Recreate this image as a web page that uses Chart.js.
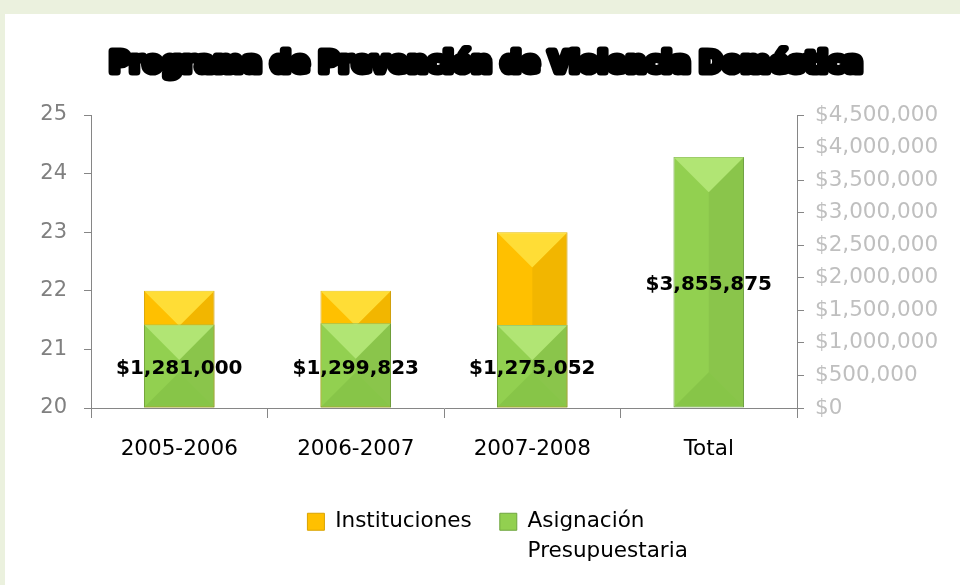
<!DOCTYPE html>
<html>
<head>
<meta charset="utf-8">
<script src="https://cdn.jsdelivr.net/npm/chart.js@4.4.0/dist/chart.umd.min.js"></script>
<style>
  html, body { margin: 0; padding: 0; background: #EBF1DE; }
  #wrap { position: absolute; left: 5px; top: 14px; width: 955px; height: 571px; background: #fff; }
</style>
</head>
<body>
<div id="wrap"><canvas id="chart-violencia"></canvas></div>
<script>
// datos del gráfico
const CATEGORIAS    = ['2005-2006', '2006-2007', '2007-2008', 'Total'];
const INSTITUCIONES = [22, 22, 23, null];
const ASIGNACION    = [1281000, 1299823, 1275052, 3855875];
const EJE_IZQ       = { min: 20, max: 25, paso: 1 };
const EJE_DER       = { min: 0, max: 4500000, paso: 500000 };
const TITULO        = 'Programa de Prevención de Violencia Doméstica';

const COLORS = {
  amarillo:     '#FFC000',
  amarilloBorde:'#D9A300',
  verde:        '#92D050',
  verdeBorde:   '#6FA53F',
  eje:          '#868686',
};

const FUENTE = '"DejaVu Sans", Verdana, sans-serif';
Chart.defaults.font.family = FUENTE;
Chart.defaults.animation = false;

const dinero = v => '$' + Number(v).toLocaleString('en-US');

function relleno(c, base, c1, c2) {
  const b = c.element;
  if (!b || !isFinite(b.x) || !isFinite(b.width)) return base;
  const g = c.chart.ctx.createLinearGradient(b.x - b.width / 2, 0, b.x + b.width / 2, 0);
  g.addColorStop(0, c1);
  g.addColorStop(0.5, c2);
  g.addColorStop(1, c1);
  return g;
}

// bisel tipo "pirámide" encima de cada barra
const bisel = {
  id: 'bisel',
  afterDatasetDraw(chart, args) {
    const ctx = chart.ctx;
    const area = chart.chartArea;
    const esVerde = args.index === 1;
    args.meta.data.forEach(bar => {
      if (!isFinite(bar.y) || !isFinite(bar.base) || !isFinite(bar.x)) return;
      const w = bar.width, l = bar.x - w / 2, r = bar.x + w / 2;
      const top = bar.y, bot = Math.min(bar.base, area.bottom);
      const h = bot - top, d = Math.min(w / 2, h / 2);
      ctx.save();
      ctx.beginPath();
      ctx.rect(l, top, w, h);
      ctx.clip();
      ctx.fillStyle = esVerde ? 'rgba(215,255,160,0.45)' : 'rgba(255,240,90,0.6)';
      ctx.beginPath();
      ctx.moveTo(l, top); ctx.lineTo(r, top); ctx.lineTo(bar.x, top + d); ctx.closePath();
      ctx.fill();
      ctx.fillStyle = 'rgba(0,0,0,0.05)';
      ctx.beginPath();
      ctx.moveTo(r, top); ctx.lineTo(bar.x, top + d); ctx.lineTo(bar.x, bot - d); ctx.lineTo(r, bot); ctx.closePath();
      ctx.fill();
      ctx.fillStyle = esVerde ? 'rgba(60,120,20,0.12)' : 'rgba(200,120,0,0.12)';
      ctx.beginPath();
      ctx.moveTo(l, bot); ctx.lineTo(r, bot); ctx.lineTo(bar.x, bot - d); ctx.closePath();
      ctx.fill();
      ctx.restore();
    });
  }
};

// etiquetas de valores, título con contorno y leyenda
const etiquetas = {
  id: 'etiquetas',
  afterInit(chart) {
    const lg = chart.legend;
    if (!lg) return;
    const fit = lg.fit.bind(lg);
    lg.fit = () => { fit(); lg.height = 102; };
  },
  afterLayout(chart) {
    // la leyenda del original no queda centrada en el lienzo
    if (chart.legend) chart.legend.left += 147;
  },
  afterDatasetsDraw(chart) {
    const ctx = chart.ctx;
    const meta = chart.getDatasetMeta(1);
    ctx.save();
    ctx.font = 'bold 20px ' + FUENTE;
    ctx.textAlign = 'center';
    ctx.textBaseline = 'middle';
    ctx.fillStyle = '#000';
    meta.data.forEach((bar, i) => {
      ctx.fillText(dinero(ASIGNACION[i]), bar.x, (bar.y + bar.base) / 2 + 3);
    });
    ctx.restore();
  },
  afterDraw(chart) {
    const t = chart.titleBlock;
    if (!t) return;
    const ctx = chart.ctx;
    ctx.save();
    ctx.font = 'bold 27.5px ' + FUENTE;
    ctx.textAlign = 'center';
    ctx.textBaseline = 'middle';
    ctx.lineJoin = 'round';
    ctx.lineWidth = 7;
    ctx.strokeStyle = '#000';
    const y = t.top + t.options.padding.top + 27.5 * 1.2 / 2;
    ctx.strokeText(TITULO, (t.left + t.right) / 2, y);
    ctx.restore();
  }
};

function buildChart() {
  const el = document.getElementById('chart-violencia');
  return new Chart(el.getContext('2d'), {
    type: 'bar',
    data: {
      labels: CATEGORIAS,
      datasets: [
        {
          label: 'Instituciones',
          data: INSTITUCIONES,
          yAxisID: 'y',
          base: EJE_IZQ.min,
          order: 2,
          grouped: false,
          backgroundColor: c => relleno(c, COLORS.amarillo, '#F7BA00', '#FFC800'),
          borderColor: COLORS.amarilloBorde,
          borderWidth: 1,
          borderSkipped: false,
        },
        {
          label: 'Asignación Presupuestaria',
          data: ASIGNACION,
          yAxisID: 'y1',
          order: 1,
          grouped: false,
          backgroundColor: c => relleno(c, COLORS.verde, '#88CC4A', '#A2E664'),
          borderColor: COLORS.verdeBorde,
          borderWidth: 1,
          borderSkipped: false,
        },
      ]
    },
    options: {
      responsive: true, maintainAspectRatio: false,
      layout: { padding: { left: 7, right: 0, top: 0, bottom: 0 } },
      datasets: { bar: { barPercentage: 0.4, categoryPercentage: 1.0 } },
      plugins: {
        tooltip: { enabled: false },
        title: {
          display: true,
          text: TITULO,
          color: '#000',
          font: { size: 27.5, weight: 'bold' },
          padding: { top: 34, bottom: 34 },
        },
        legend: {
          position: 'bottom',
          labels: {
            color: '#000',
            font: { size: 21.5, lineHeight: 1.36 },
            boxWidth: 17, boxHeight: 17,
            padding: 28,
            generateLabels: () => [
              { text: 'Instituciones', fillStyle: COLORS.amarillo, strokeStyle: COLORS.amarilloBorde, lineWidth: 1, datasetIndex: 0 },
              { text: ['Asignación', 'Presupuestaria'], fillStyle: COLORS.verde, strokeStyle: COLORS.verdeBorde, lineWidth: 1, datasetIndex: 1 },
            ],
          }
        }
      },
      scales: {
        x: {
          grid: { display: true, drawOnChartArea: false, color: COLORS.eje, tickLength: 10, offset: true },
          border: { color: COLORS.eje },
          ticks: { color: '#000', font: { size: 21.5 }, padding: 19 },
          afterFit: s => { s.height = 75; },
        },
        y: {
          position: 'left',
          min: EJE_IZQ.min, max: EJE_IZQ.max,
          grid: { drawOnChartArea: false, color: COLORS.eje, tickLength: 7 },
          border: { color: COLORS.eje },
          ticks: { stepSize: EJE_IZQ.paso, color: '#808080', font: { size: 21 }, padding: 17 },
          afterFit: s => { s.width = 79; },
        },
        y1: {
          position: 'right',
          min: EJE_DER.min, max: EJE_DER.max,
          grid: { drawOnChartArea: false, color: COLORS.eje, tickLength: 7 },
          border: { color: COLORS.eje },
          ticks: { stepSize: EJE_DER.paso, color: '#BFBFBF', font: { size: 21.5 }, padding: 11, callback: v => dinero(v) },
          afterFit: s => { s.width = 163; },
        },
      }
    },
    plugins: [bisel, etiquetas]
  });
}

document.addEventListener('DOMContentLoaded', buildChart);
</script>
</body>
</html>
